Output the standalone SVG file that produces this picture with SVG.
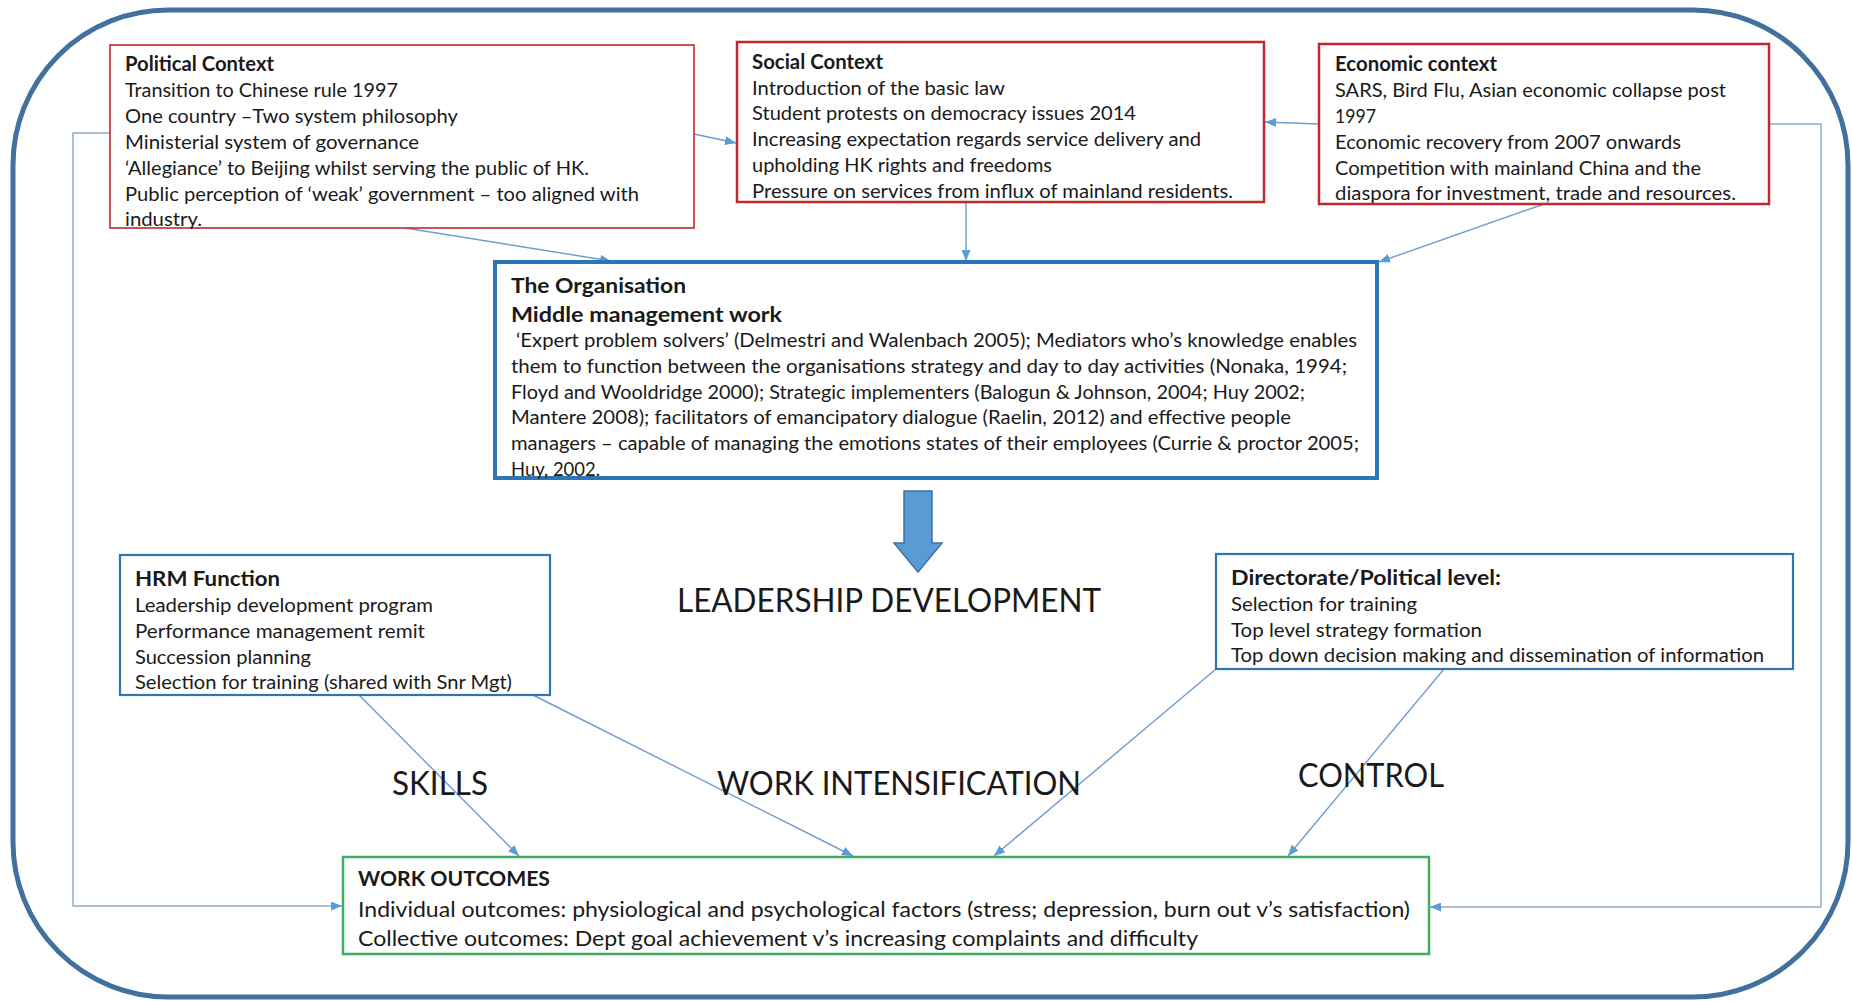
<svg xmlns="http://www.w3.org/2000/svg" width="1852" height="1001" viewBox="0 0 1852 1001">
  <style>
    .t { font-family: Lato, "Open Sans", "Liberation Sans", sans-serif; font-size: 19.5px; fill: #1a1a1a; }
    .b { font-weight: bold; font-size: 20px; }
    .h { font-weight: bold; font-size: 21px; }
    .w { font-size: 21px; }
    .lbl { font-family: Lato, "Open Sans", "Liberation Sans", sans-serif; font-size: 32px; fill: #1a1a1a; }
    .red { fill: #ffffff; stroke: #c0282d; }
    .blue { fill: #ffffff; stroke: #2e75b6; }
    .green { fill: #ffffff; stroke: #3fae62; stroke-width: 2.5; }
    .conn { fill: none; stroke: #6f9ccf; stroke-width: 1.4; marker-end: url(#ah); }
    .loop { fill: none; stroke: #8ea9c8; stroke-width: 1.4; marker-end: url(#ah); }
  </style>
  <defs>
    <marker id="ah" markerUnits="userSpaceOnUse" markerWidth="11" markerHeight="9" refX="11" refY="4.5" orient="auto">
      <path d="M0,0 L11,4.5 L0,9 z" fill="#5b9bd5"/>
    </marker>
  </defs>

  <rect width="1852" height="1001" fill="#ffffff"/>

  <!-- outer frame -->
  <rect x="13" y="10" width="1835" height="987" rx="155" ry="155" fill="none" stroke="#41719c" stroke-width="5"/>

  <!-- connectors -->
  <g id="connectors">
    <line class="conn" x1="405" y1="228" x2="611" y2="261"/>
    <line class="conn" x1="694" y1="134" x2="736" y2="143"/>
    <line class="conn" x1="966" y1="202" x2="966" y2="261"/>
    <line class="conn" x1="1319" y1="124" x2="1265" y2="122"/>
    <line class="conn" x1="1544" y1="204" x2="1379" y2="262"/>
    <polyline class="loop" points="110,133 73,133 73,906 342,906"/>
    <polyline class="loop" points="1768,124 1821,124 1821,907 1430,907"/>
    <line class="conn" x1="359" y1="695" x2="519" y2="856"/>
    <line class="conn" x1="533" y1="695" x2="853" y2="856"/>
    <line class="conn" x1="1216" y1="669" x2="994" y2="856"/>
    <line class="conn" x1="1444" y1="669" x2="1288" y2="856"/>
  </g>

  <!-- Political Context -->
  <g id="political">
    <rect class="red" x="110" y="45" width="584" height="183" stroke-width="1.6"/>
    <text class="t b" x="125" y="71" textLength="149" lengthAdjust="spacingAndGlyphs">Political Context</text>
    <text class="t" x="125" y="97" textLength="273" lengthAdjust="spacingAndGlyphs">Transition to Chinese rule 1997</text>
    <text class="t" x="125" y="123" textLength="333" lengthAdjust="spacingAndGlyphs">One country –Two system philosophy</text>
    <text class="t" x="125" y="149" textLength="294" lengthAdjust="spacingAndGlyphs">Ministerial system of governance</text>
    <text class="t" x="125" y="175" textLength="464" lengthAdjust="spacingAndGlyphs">‘Allegiance’ to Beijing whilst serving the public of HK.</text>
    <text class="t" x="125" y="201" textLength="514" lengthAdjust="spacingAndGlyphs">Public perception of ‘weak’ government – too aligned with</text>
    <text class="t" x="125" y="226" textLength="77" lengthAdjust="spacingAndGlyphs">industry.</text>
  </g>

  <!-- Social Context -->
  <g id="social">
    <rect class="red" x="737" y="42" width="527" height="160" stroke-width="2.5"/>
    <text class="t b" x="752" y="69" textLength="131" lengthAdjust="spacingAndGlyphs">Social Context</text>
    <text class="t" x="752" y="95" textLength="253" lengthAdjust="spacingAndGlyphs">Introduction of the basic law</text>
    <text class="t" x="752" y="120" textLength="384" lengthAdjust="spacingAndGlyphs">Student protests on democracy issues 2014</text>
    <text class="t" x="752" y="146" textLength="449" lengthAdjust="spacingAndGlyphs">Increasing expectation regards service delivery and</text>
    <text class="t" x="752" y="172" textLength="300" lengthAdjust="spacingAndGlyphs">upholding HK rights and freedoms</text>
    <text class="t" x="752" y="198" textLength="481" lengthAdjust="spacingAndGlyphs">Pressure on services from influx of mainland residents.</text>
  </g>

  <!-- Economic context -->
  <g id="economic">
    <rect class="red" x="1319" y="44" width="450" height="160" stroke-width="2.5"/>
    <text class="t b" x="1335" y="71" textLength="162" lengthAdjust="spacingAndGlyphs">Economic context</text>
    <text class="t" x="1335" y="97" textLength="391" lengthAdjust="spacingAndGlyphs">SARS, Bird Flu, Asian economic collapse post</text>
    <text class="t" x="1335" y="123" textLength="41" lengthAdjust="spacingAndGlyphs">1997</text>
    <text class="t" x="1335" y="149" textLength="346" lengthAdjust="spacingAndGlyphs">Economic recovery from 2007 onwards</text>
    <text class="t" x="1335" y="175" textLength="366" lengthAdjust="spacingAndGlyphs">Competition with mainland China and the</text>
    <text class="t" x="1335" y="200" textLength="401" lengthAdjust="spacingAndGlyphs">diaspora for investment, trade and resources.</text>
  </g>

  <!-- The Organisation -->
  <g id="organisation">
    <rect class="blue" x="495" y="262" width="882" height="216" stroke-width="4"/>
    <text class="t h" x="511" y="293" textLength="175" lengthAdjust="spacingAndGlyphs">The Organisation</text>
    <text class="t h" x="511" y="322" textLength="271" lengthAdjust="spacingAndGlyphs">Middle management work</text>
    <text class="t" x="516" y="347" textLength="841" lengthAdjust="spacingAndGlyphs">‘Expert problem solvers’ (Delmestri and Walenbach 2005); Mediators who’s knowledge enables</text>
    <text class="t" x="511" y="373" textLength="836" lengthAdjust="spacingAndGlyphs">them to function between the organisations strategy and day to day activities (Nonaka, 1994;</text>
    <text class="t" x="511" y="399" textLength="794" lengthAdjust="spacingAndGlyphs">Floyd and Wooldridge 2000); Strategic implementers (Balogun &amp; Johnson, 2004; Huy 2002;</text>
    <text class="t" x="511" y="424" textLength="780" lengthAdjust="spacingAndGlyphs">Mantere 2008); facilitators of emancipatory dialogue (Raelin, 2012) and effective people</text>
    <text class="t" x="511" y="450" textLength="848" lengthAdjust="spacingAndGlyphs">managers – capable of managing the emotions states of their employees (Currie &amp; proctor 2005;</text>
    <text class="t" x="511" y="476" textLength="89" lengthAdjust="spacingAndGlyphs">Huy, 2002.</text>
  </g>

  <!-- block arrow and leadership label -->
  <g id="leadership">
    <polygon points="904,491 932,491 932,543 942,543 918,572 894,543 904,543" fill="#5b9bd5" stroke="#41719c" stroke-width="1.5"/>
    <text class="lbl" x="677" y="612" textLength="424" lengthAdjust="spacingAndGlyphs">LEADERSHIP DEVELOPMENT</text>
  </g>

  <!-- HRM Function -->
  <g id="hrm">
    <rect class="blue" x="120" y="555" width="430" height="140" stroke-width="2.2"/>
    <text class="t b" x="135" y="586" textLength="145" lengthAdjust="spacingAndGlyphs">HRM Function</text>
    <text class="t" x="135" y="612" textLength="298" lengthAdjust="spacingAndGlyphs">Leadership development program</text>
    <text class="t" x="135" y="638" textLength="290" lengthAdjust="spacingAndGlyphs">Performance management remit</text>
    <text class="t" x="135" y="664" textLength="176" lengthAdjust="spacingAndGlyphs">Succession planning</text>
    <text class="t" x="135" y="689" textLength="377" lengthAdjust="spacingAndGlyphs">Selection for training (shared with Snr Mgt)</text>
  </g>

  <!-- Directorate / Political level -->
  <g id="directorate">
    <rect class="blue" x="1216" y="554" width="577" height="115" stroke-width="2.2"/>
    <text class="t b" x="1231" y="585" textLength="270" lengthAdjust="spacingAndGlyphs">Directorate/Political level:</text>
    <text class="t" x="1231" y="611" textLength="186" lengthAdjust="spacingAndGlyphs">Selection for training</text>
    <text class="t" x="1231" y="637" textLength="251" lengthAdjust="spacingAndGlyphs">Top level strategy formation</text>
    <text class="t" x="1231" y="662" textLength="533" lengthAdjust="spacingAndGlyphs">Top down decision making and dissemination of information</text>
  </g>

  <!-- flow labels -->
  <g id="labels">
    <text class="lbl" x="392" y="795" textLength="96" lengthAdjust="spacingAndGlyphs">SKILLS</text>
    <text class="lbl" x="717" y="795" textLength="364" lengthAdjust="spacingAndGlyphs">WORK INTENSIFICATION</text>
    <text class="lbl" x="1298" y="787" textLength="146" lengthAdjust="spacingAndGlyphs">CONTROL</text>
  </g>

  <!-- Work outcomes -->
  <g id="outcomes">
    <rect class="green" x="343" y="857" width="1086" height="97"/>
    <text class="t b" x="358" y="886" textLength="192" lengthAdjust="spacingAndGlyphs">WORK OUTCOMES</text>
    <text class="t w" x="358" y="917" textLength="1052" lengthAdjust="spacingAndGlyphs">Individual outcomes: physiological and psychological factors (stress; depression, burn out v’s satisfaction)</text>
    <text class="t w" x="358" y="946" textLength="840" lengthAdjust="spacingAndGlyphs">Collective outcomes: Dept goal achievement v’s increasing complaints and difficulty</text>
  </g>
</svg>
